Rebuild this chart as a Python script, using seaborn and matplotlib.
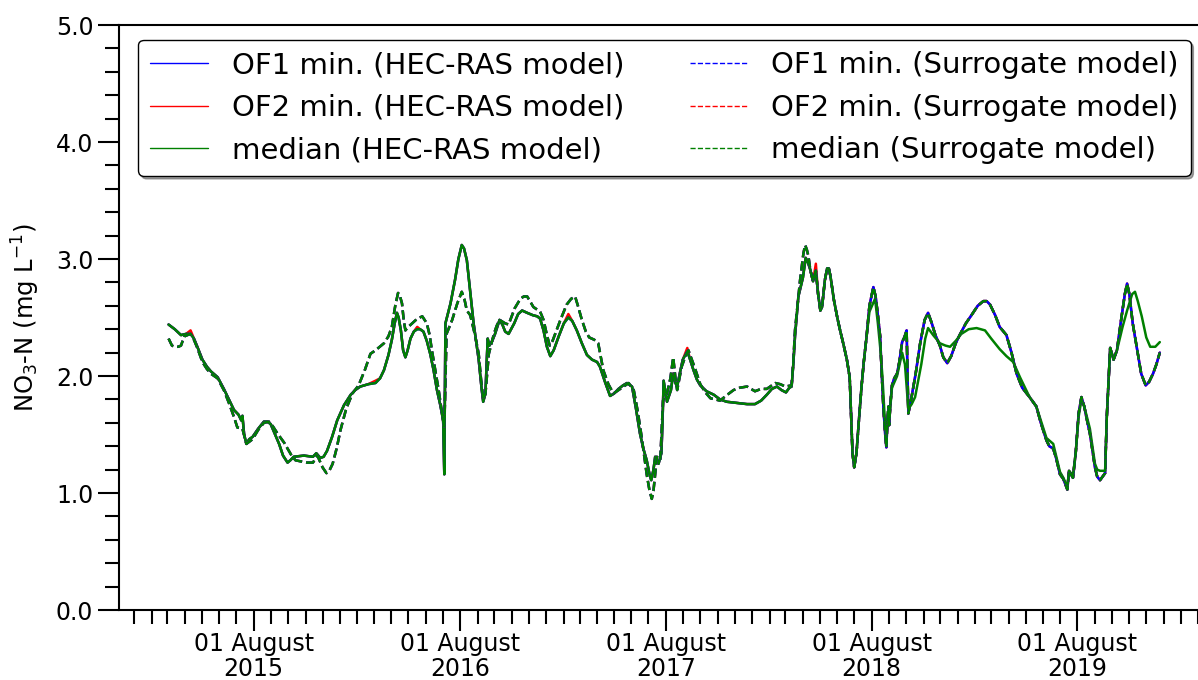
import matplotlib
matplotlib.use("Agg")
import matplotlib.pyplot as plt
import matplotlib.dates as mdates
from matplotlib.ticker import MultipleLocator, FormatStrFormatter
import pandas as pd
import seaborn as sns

# HEC-RAS simulated NO3-N (mg/L), common to all runs up to summer 2018
hec_points = [
    ("2015-03-03", 2.44), ("2015-03-14", 2.40), ("2015-03-25", 2.35), ("2015-04-03", 2.36),
    ("2015-04-11", 2.36), ("2015-04-17", 2.32), ("2015-04-23", 2.25), ("2015-05-02", 2.14),
    ("2015-05-10", 2.08), ("2015-05-17", 2.04), ("2015-05-29", 1.99), ("2015-06-09", 1.89),
    ("2015-06-18", 1.80), ("2015-06-27", 1.71), ("2015-07-05", 1.67), ("2015-07-10", 1.62),
    ("2015-07-12", 1.66), ("2015-07-15", 1.50), ("2015-07-19", 1.42), ("2015-07-24", 1.46),
    ("2015-07-30", 1.48), ("2015-08-09", 1.55), ("2015-08-19", 1.61), ("2015-08-25", 1.61),
    ("2015-08-31", 1.59), ("2015-09-08", 1.50), ("2015-09-15", 1.42), ("2015-09-22", 1.32),
    ("2015-09-30", 1.26), ("2015-10-05", 1.28), ("2015-10-11", 1.31), ("2015-10-29", 1.32),
    ("2015-11-14", 1.31), ("2015-11-20", 1.34), ("2015-11-27", 1.30), ("2015-12-03", 1.31),
    ("2015-12-09", 1.36), ("2015-12-18", 1.48), ("2015-12-27", 1.62), ("2016-01-08", 1.75),
    ("2016-01-20", 1.84), ("2016-01-28", 1.88), ("2016-02-06", 1.91), ("2016-02-20", 1.93),
    ("2016-03-04", 1.94), ("2016-03-12", 1.98), ("2016-03-19", 2.05), ("2016-03-27", 2.18),
    ("2016-04-02", 2.31), ("2016-04-07", 2.45), ("2016-04-11", 2.54), ("2016-04-14", 2.50),
    ("2016-04-18", 2.39), ("2016-04-22", 2.22), ("2016-04-26", 2.16), ("2016-04-30", 2.22),
    ("2016-05-05", 2.32), ("2016-05-11", 2.38), ("2016-05-17", 2.40), ("2016-05-22", 2.40),
    ("2016-05-28", 2.38), ("2016-06-03", 2.30), ("2016-06-09", 2.19), ("2016-06-15", 2.05),
    ("2016-06-21", 1.88), ("2016-06-27", 1.75), ("2016-07-02", 1.62), ("2016-07-04", 1.16),
    ("2016-07-06", 2.45), ("2016-07-15", 2.62), ("2016-07-23", 2.82), ("2016-07-29", 3.00),
    ("2016-08-04", 3.12), ("2016-08-08", 3.09), ("2016-08-13", 2.99), ("2016-08-19", 2.72),
    ("2016-08-25", 2.45), ("2016-09-03", 2.14), ("2016-09-08", 1.90), ("2016-09-11", 1.78),
    ("2016-09-15", 1.85), ("2016-09-17", 2.10), ("2016-09-19", 2.32), ("2016-09-22", 2.26),
    ("2016-09-27", 2.30), ("2016-10-02", 2.36), ("2016-10-10", 2.48), ("2016-10-15", 2.44),
    ("2016-10-20", 2.38), ("2016-10-26", 2.36), ("2016-11-05", 2.45), ("2016-11-12", 2.53),
    ("2016-11-19", 2.56), ("2016-11-28", 2.54), ("2016-12-08", 2.52), ("2016-12-16", 2.51),
    ("2016-12-21", 2.49), ("2016-12-27", 2.39), ("2017-01-02", 2.25), ("2017-01-08", 2.17),
    ("2017-01-14", 2.22), ("2017-01-23", 2.34), ("2017-02-01", 2.45), ("2017-02-09", 2.50),
    ("2017-02-16", 2.47), ("2017-02-24", 2.39), ("2017-03-05", 2.28), ("2017-03-14", 2.18),
    ("2017-03-23", 2.14), ("2017-04-01", 2.12), ("2017-04-06", 2.08), ("2017-04-15", 1.95),
    ("2017-04-24", 1.83), ("2017-05-01", 1.85), ("2017-05-09", 1.89), ("2017-05-17", 1.92),
    ("2017-05-24", 1.94), ("2017-06-02", 1.91), ("2017-06-09", 1.72), ("2017-06-16", 1.51),
    ("2017-06-22", 1.38), ("2017-06-28", 1.28), ("2017-07-03", 1.16), ("2017-07-06", 1.11),
    ("2017-07-10", 1.20), ("2017-07-13", 1.31), ("2017-07-19", 1.25), ("2017-07-24", 1.34),
    ("2017-07-26", 1.60), ("2017-07-28", 1.96), ("2017-08-03", 1.78), ("2017-08-10", 1.88),
    ("2017-08-14", 2.02), ("2017-08-18", 1.94), ("2017-08-21", 1.91), ("2017-08-26", 2.03),
    ("2017-08-31", 2.14), ("2017-09-08", 2.21), ("2017-09-13", 2.14), ("2017-09-19", 2.05),
    ("2017-09-25", 1.97), ("2017-10-01", 1.92), ("2017-10-12", 1.87), ("2017-10-25", 1.84),
    ("2017-11-05", 1.80), ("2017-11-17", 1.78), ("2017-12-05", 1.77), ("2017-12-23", 1.76),
    ("2018-01-06", 1.76), ("2018-01-17", 1.79), ("2018-01-27", 1.84), ("2018-02-05", 1.89),
    ("2018-02-14", 1.91), ("2018-02-22", 1.88), ("2018-03-02", 1.86), ("2018-03-08", 1.90),
    ("2018-03-12", 1.91), ("2018-03-15", 2.10), ("2018-03-18", 2.34), ("2018-03-24", 2.68),
    ("2018-04-01", 2.84), ("2018-04-06", 3.01), ("2018-04-10", 2.97), ("2018-04-14", 2.91),
    ("2018-04-19", 2.81), ("2018-04-24", 2.90), ("2018-04-28", 2.70), ("2018-05-02", 2.56),
    ("2018-05-05", 2.59), ("2018-05-10", 2.82), ("2018-05-14", 2.92), ("2018-05-17", 2.92),
    ("2018-05-20", 2.85), ("2018-05-26", 2.65), ("2018-06-01", 2.50), ("2018-06-06", 2.39),
    ("2018-06-12", 2.27), ("2018-06-18", 2.14), ("2018-06-23", 1.99), ("2018-06-28", 1.34),
    ("2018-07-01", 1.22), ("2018-07-05", 1.34), ("2018-07-09", 1.60), ("2018-07-14", 1.91),
    ("2018-07-18", 2.12), ("2018-07-23", 2.34),
]

# Dates where the OF2 run sits slightly above the OF1 run
of2_points = [
    ("2015-04-11", 2.39), ("2016-03-04", 1.96), ("2016-05-17", 2.42),
    ("2017-02-09", 2.53), ("2017-09-08", 2.24), ("2018-04-24", 2.96),
]

# Surrogate model NO3-N up to spring 2018
sur_points = [
    ("2015-03-03", 2.32), ("2015-03-09", 2.26), ("2015-03-14", 2.25), ("2015-03-20", 2.25),
    ("2015-03-25", 2.26), ("2015-03-31", 2.34), ("2015-04-11", 2.36), ("2015-04-17", 2.31),
    ("2015-04-23", 2.24), ("2015-05-02", 2.12), ("2015-05-10", 2.06), ("2015-05-17", 2.02),
    ("2015-05-29", 1.98), ("2015-06-09", 1.88), ("2015-06-18", 1.77), ("2015-06-27", 1.65),
    ("2015-07-03", 1.56), ("2015-07-12", 1.55), ("2015-07-19", 1.42), ("2015-07-30", 1.46),
    ("2015-08-09", 1.54), ("2015-08-19", 1.60), ("2015-08-28", 1.61), ("2015-09-04", 1.57),
    ("2015-09-12", 1.51), ("2015-09-24", 1.43), ("2015-10-06", 1.33), ("2015-10-14", 1.28),
    ("2015-10-24", 1.27), ("2015-11-04", 1.26), ("2015-11-14", 1.26), ("2015-11-22", 1.32),
    ("2015-12-01", 1.22), ("2015-12-08", 1.17), ("2015-12-13", 1.19), ("2015-12-19", 1.25),
    ("2015-12-26", 1.38), ("2016-01-02", 1.54), ("2016-01-12", 1.72), ("2016-01-23", 1.85),
    ("2016-02-03", 1.92), ("2016-02-14", 2.05), ("2016-02-24", 2.19), ("2016-03-04", 2.22),
    ("2016-03-19", 2.28), ("2016-03-27", 2.34), ("2016-04-02", 2.42), ("2016-04-08", 2.60),
    ("2016-04-13", 2.71), ("2016-04-16", 2.69), ("2016-04-20", 2.62), ("2016-04-23", 2.48),
    ("2016-04-26", 2.39), ("2016-05-01", 2.42), ("2016-05-08", 2.45), ("2016-05-17", 2.49),
    ("2016-05-26", 2.51), ("2016-06-03", 2.45), ("2016-06-08", 2.35), ("2016-06-12", 2.22),
    ("2016-06-18", 2.05), ("2016-06-24", 1.88), ("2016-07-02", 1.62), ("2016-07-04", 1.55),
    ("2016-07-08", 2.36), ("2016-07-18", 2.48), ("2016-07-27", 2.62), ("2016-08-04", 2.72),
    ("2016-08-09", 2.65), ("2016-08-13", 2.56), ("2016-08-19", 2.52), ("2016-08-27", 2.36),
    ("2016-09-03", 2.19), ("2016-09-07", 1.98), ("2016-09-11", 1.80), ("2016-09-15", 1.85),
    ("2016-09-21", 2.19), ("2016-09-30", 2.36), ("2016-10-05", 2.43), ("2016-10-10", 2.48),
    ("2016-10-20", 2.45), ("2016-10-26", 2.44), ("2016-11-06", 2.58), ("2016-11-16", 2.66),
    ("2016-11-22", 2.68), ("2016-11-28", 2.68), ("2016-12-03", 2.64), ("2016-12-09", 2.59),
    ("2016-12-21", 2.55), ("2016-12-27", 2.48), ("2017-01-02", 2.35), ("2017-01-07", 2.26),
    ("2017-01-12", 2.30), ("2017-01-26", 2.48), ("2017-02-06", 2.61), ("2017-02-14", 2.66),
    ("2017-02-21", 2.68), ("2017-02-26", 2.60), ("2017-03-05", 2.48), ("2017-03-12", 2.38),
    ("2017-03-18", 2.33), ("2017-03-27", 2.31), ("2017-04-03", 2.28), ("2017-04-12", 2.05),
    ("2017-04-21", 1.93), ("2017-04-30", 1.85), ("2017-05-12", 1.89), ("2017-05-27", 1.94),
    ("2017-06-05", 1.88), ("2017-06-12", 1.70), ("2017-06-19", 1.48), ("2017-06-28", 1.16),
    ("2017-07-03", 1.02), ("2017-07-07", 0.95), ("2017-07-10", 1.02), ("2017-07-13", 1.16),
    ("2017-07-16", 1.31), ("2017-07-22", 1.28), ("2017-07-27", 1.79), ("2017-08-03", 1.85),
    ("2017-08-09", 1.98), ("2017-08-14", 2.16), ("2017-08-18", 1.98), ("2017-08-21", 1.88),
    ("2017-08-29", 2.08), ("2017-09-04", 2.16), ("2017-09-10", 2.22), ("2017-09-16", 2.14),
    ("2017-09-22", 2.06), ("2017-10-01", 1.93), ("2017-10-10", 1.86), ("2017-10-19", 1.81),
    ("2017-11-05", 1.79), ("2017-11-18", 1.84), ("2017-11-29", 1.88), ("2017-12-10", 1.90),
    ("2017-12-23", 1.91), ("2018-01-06", 1.87), ("2018-01-17", 1.89), ("2018-01-27", 1.89),
    ("2018-02-11", 1.94), ("2018-02-20", 1.93), ("2018-03-01", 1.91), ("2018-03-12", 1.92),
    ("2018-03-15", 2.12), ("2018-03-18", 2.39), ("2018-03-27", 2.82), ("2018-04-02", 3.05),
    ("2018-04-05", 3.12), ("2018-04-08", 3.08), ("2018-04-11", 3.02),
]

# Jul 2018 - Dec 2019: OF-minimising runs (HEC-RAS and surrogate)
opt_points = [
    ("2018-07-28", 2.60), ("2018-08-04", 2.76), ("2018-08-08", 2.68), ("2018-08-12", 2.52),
    ("2018-08-16", 2.34), ("2018-08-19", 2.00), ("2018-08-22", 1.71), ("2018-08-25", 1.50),
    ("2018-08-27", 1.39), ("2018-08-29", 1.62), ("2018-08-31", 1.74), ("2018-09-01", 1.58),
    ("2018-09-03", 1.75), ("2018-09-06", 1.92), ("2018-09-10", 1.98), ("2018-09-15", 2.02),
    ("2018-09-19", 2.12), ("2018-09-24", 2.29), ("2018-09-28", 2.33), ("2018-10-02", 2.39),
    ("2018-10-05", 1.68), ("2018-10-10", 1.80), ("2018-10-18", 2.02), ("2018-10-26", 2.28),
    ("2018-11-03", 2.48), ("2018-11-09", 2.54), ("2018-11-15", 2.46), ("2018-11-22", 2.35),
    ("2018-11-30", 2.26), ("2018-12-06", 2.16), ("2018-12-13", 2.11), ("2018-12-20", 2.17),
    ("2018-12-28", 2.28), ("2019-01-04", 2.35), ("2019-01-15", 2.45), ("2019-01-25", 2.52),
    ("2019-02-05", 2.60), ("2019-02-15", 2.64), ("2019-02-21", 2.64), ("2019-02-27", 2.61),
    ("2019-03-08", 2.52), ("2019-03-16", 2.42), ("2019-03-28", 2.35), ("2019-04-06", 2.20),
    ("2019-04-15", 2.02), ("2019-04-25", 1.90), ("2019-05-08", 1.82), ("2019-05-20", 1.74),
    ("2019-05-28", 1.60), ("2019-06-07", 1.45), ("2019-06-12", 1.40), ("2019-06-19", 1.38),
    ("2019-06-24", 1.30), ("2019-07-01", 1.16), ("2019-07-07", 1.12), ("2019-07-14", 1.03),
    ("2019-07-17", 1.19), ("2019-07-24", 1.13), ("2019-07-29", 1.35), ("2019-08-03", 1.68),
    ("2019-08-08", 1.82), ("2019-08-13", 1.74), ("2019-08-18", 1.62), ("2019-08-23", 1.51),
    ("2019-08-28", 1.35), ("2019-09-01", 1.22), ("2019-09-05", 1.14), ("2019-09-10", 1.11),
    ("2019-09-19", 1.17), ("2019-09-22", 1.65), ("2019-09-28", 2.24), ("2019-10-04", 2.14),
    ("2019-10-10", 2.22), ("2019-10-18", 2.50), ("2019-10-24", 2.70), ("2019-10-28", 2.79),
    ("2019-11-01", 2.70), ("2019-11-07", 2.45), ("2019-11-14", 2.25), ("2019-11-22", 2.02),
    ("2019-11-30", 1.92), ("2019-12-06", 1.95), ("2019-12-13", 2.02), ("2019-12-19", 2.10),
    ("2019-12-25", 2.20),
]

# Jul 2018 - Dec 2019: HEC-RAS median run
med_points = [
    ("2018-07-28", 2.55), ("2018-08-07", 2.66), ("2018-08-12", 2.45), ("2018-08-16", 2.25),
    ("2018-08-20", 2.00), ("2018-08-24", 1.65), ("2018-08-27", 1.45), ("2018-08-30", 1.70),
    ("2018-09-01", 1.62), ("2018-09-06", 1.90), ("2018-09-15", 2.00), ("2018-09-24", 2.20),
    ("2018-09-29", 2.10), ("2018-10-05", 1.72), ("2018-10-11", 1.76), ("2018-10-17", 1.82),
    ("2018-10-28", 2.10), ("2018-11-04", 2.32), ("2018-11-09", 2.41), ("2018-11-18", 2.35),
    ("2018-11-30", 2.28), ("2018-12-10", 2.26), ("2018-12-18", 2.25), ("2018-12-28", 2.30),
    ("2019-01-07", 2.36), ("2019-01-20", 2.40), ("2019-02-03", 2.41), ("2019-02-18", 2.39),
    ("2019-03-01", 2.32), ("2019-03-16", 2.23), ("2019-03-28", 2.17), ("2019-04-09", 2.12),
    ("2019-04-21", 1.99), ("2019-05-08", 1.82), ("2019-05-20", 1.74), ("2019-05-28", 1.62),
    ("2019-06-07", 1.47), ("2019-06-19", 1.42), ("2019-06-24", 1.32), ("2019-07-01", 1.18),
    ("2019-07-07", 1.13), ("2019-07-14", 1.05), ("2019-07-17", 1.19), ("2019-07-24", 1.15),
    ("2019-07-29", 1.35), ("2019-08-03", 1.65), ("2019-08-08", 1.80), ("2019-08-13", 1.74),
    ("2019-08-23", 1.55), ("2019-09-01", 1.25), ("2019-09-05", 1.20), ("2019-09-10", 1.19),
    ("2019-09-19", 1.19), ("2019-09-22", 1.65), ("2019-09-28", 2.24), ("2019-10-04", 2.14),
    ("2019-10-10", 2.22), ("2019-10-20", 2.42), ("2019-10-28", 2.56), ("2019-11-06", 2.70),
    ("2019-11-11", 2.72), ("2019-11-16", 2.64), ("2019-11-23", 2.51), ("2019-12-01", 2.33),
    ("2019-12-08", 2.25), ("2019-12-17", 2.25), ("2019-12-25", 2.29),
]

labels = [
    "OF1 min. (HEC-RAS model)", "OF2 min. (HEC-RAS model)", "median (HEC-RAS model)",
    "OF1 min. (Surrogate model)", "OF2 min. (Surrogate model)", "median (Surrogate model)",
]
colors = ["blue", "red", "green", "blue", "red", "green"]
styles = ["-", "-", "-", "--", "--", "--"]
# drawing order (legend keeps the order of `labels`)
draw_order = [1, 0, 2, 4, 3, 5]


def frame(points):
    df = pd.DataFrame(points, columns=["date", "no3"])
    df["date"] = pd.to_datetime(df["date"])
    return df


hec = frame(hec_points)
of2_fix = dict(zip(frame(of2_points)["date"], frame(of2_points)["no3"]))
hec_of2 = hec.assign(no3=[of2_fix.get(d, v) for d, v in zip(hec["date"], hec["no3"])])
opt = frame(opt_points)
med = frame(med_points)
sur = frame(sur_points)
sur_full = pd.concat([sur, hec[hec["date"] > sur["date"].max()], opt], ignore_index=True)

series = [
    pd.concat([hec, opt], ignore_index=True),
    pd.concat([hec_of2, opt], ignore_index=True),
    pd.concat([hec, med], ignore_index=True),
    sur_full, sur_full, sur_full,
]

sns.set_theme(style="ticks")
plt.rcParams.update({
    "font.family": ["DejaVu Sans"],
    "mathtext.fontset": "dejavusans",
    "axes.edgecolor": "black",
    "axes.labelcolor": "black",
    "xtick.color": "black",
    "ytick.color": "black",
    "text.color": "black",
    "axes.linewidth": 1.5,
})

fig = plt.figure(figsize=(11.98, 6.8), dpi=100)
ax = fig.add_axes([0.0993, 0.1029, 0.9107, 0.8603])

for i in draw_order:
    sns.lineplot(data=series[i], x="date", y="no3", ax=ax, color=colors[i],
                 linestyle=styles[i], linewidth=1.8, label=labels[i],
                 estimator=None, sort=False)

ax.set_xlim(pd.Timestamp("2014-12-05"), pd.Timestamp("2020-03-23"))
ax.set_ylim(0, 5)
ax.xaxis.set_major_locator(mdates.MonthLocator(bymonth=8, bymonthday=1))
ax.xaxis.set_major_formatter(mdates.DateFormatter("%d %B\n%Y"))
ax.xaxis.set_minor_locator(mdates.MonthLocator())
ax.yaxis.set_major_locator(MultipleLocator(1.0))
ax.yaxis.set_minor_locator(MultipleLocator(0.2))
ax.yaxis.set_major_formatter(FormatStrFormatter("%.1f"))
ax.tick_params(which="major", length=15, width=1.5, labelsize=17, direction="out")
ax.tick_params(which="minor", length=10, width=1.5, direction="out")
ax.tick_params(axis="x", which="major", pad=0.5)
for t in ax.get_xticklabels():
    t.set_linespacing(1.05)
ax.spines["right"].set_visible(False)
ax.set_xlabel("")
ax.set_ylabel("NO$_3$-N (mg L$^{-1}$)", fontsize=17.5, labelpad=10)

handles, labs = ax.get_legend_handles_labels()
lookup = dict(zip(labs, handles))
leg = ax.legend([lookup[l] for l in labels], labels, ncol=2, loc="upper center",
                fontsize=21, frameon=True, fancybox=True, shadow=True, framealpha=1,
                edgecolor="black", columnspacing=2.25, handlelength=2.0)
for line in leg.get_lines():
    line.set_linewidth(1.0)

fig.savefig("out.png", dpi=100)
